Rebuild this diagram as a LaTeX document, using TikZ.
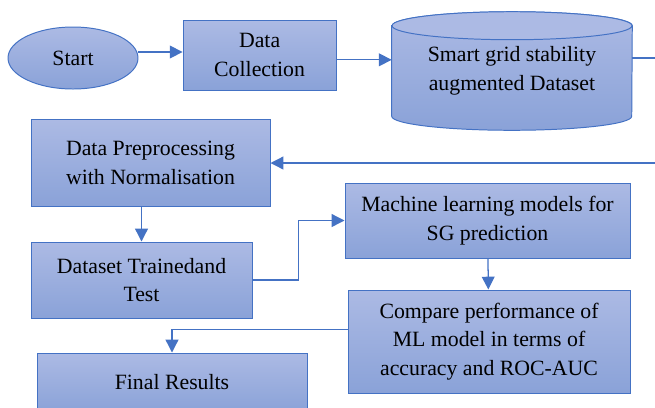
\documentclass[tikz,border=0pt]{standalone}
\usepackage{fontspec}
\setmainfont{Liberation Serif}
\usetikzlibrary{arrows.meta,backgrounds,shapes.geometric}
\definecolor{edgeblue}{RGB}{68,114,196}
\definecolor{filltop}{RGB}{172,186,228}
\definecolor{fillbot}{RGB}{138,162,216}
\begin{document}
\begin{tikzpicture}[font=\fontsize{15.5}{20.5}\selectfont,
  box/.style={draw=edgeblue, line width=0.7pt, top color=filltop, bottom color=fillbot, align=center, inner sep=0pt},
  term/.style={box, ellipse},
  store/.style={minimum width=6cm, minimum height=2.95cm, align=center, inner sep=0pt},
  cyl/.style={draw=edgeblue, line width=0.7pt, top color=filltop, bottom color=fillbot},
  arr/.style={draw=edgeblue, line width=0.9pt, -{Triangle[length=0.32cm, width=0.32cm]}},
  lin/.style={draw=edgeblue, line width=0.9pt}]
\useasboundingbox (0,0) rectangle (16.375,-10.175);
\node[term, minimum width=3.25cm, minimum height=1.55cm] (st) at (1.825,-1.45) {Start};
\node[box, minimum width=3.825cm, minimum height=1.75cm] (dc) at (6.49,-1.375) {Data\\Collection};
\node[store] (ds) at (12.8,-1.775) {Smart grid stability\\augmented Dataset};
\begin{scope}[on background layer]
  \path[cyl] ([yshift=-0.35cm]ds.north west) -- ([yshift=0.35cm]ds.south west)
    arc[start angle=180, end angle=360, x radius=3cm, y radius=0.35cm]
    -- ([yshift=-0.35cm]ds.north east)
    arc[start angle=0, end angle=180, x radius=3cm, y radius=0.35cm] -- cycle;
  \draw[edgeblue, line width=0.7pt, fill=filltop] ([yshift=-0.35cm]ds.north) ellipse[x radius=3cm, y radius=0.35cm];
\end{scope}
\node[box, minimum width=5.975cm, minimum height=2.175cm] (pre) at (3.7625,-4.0625) {Data Preprocessing\\with Normalisation};
\node[box, minimum width=5.525cm, minimum height=1.9cm] (tt) at (3.5375,-7.0) {Dataset Trainedand\\Test};
\node[box, minimum width=7.125cm, minimum height=1.875cm] (ml) at (12.1875,-5.5125) {Machine learning models for\\SG prediction};
\node[box, minimum width=7.05cm, minimum height=2.575cm] (cmp) at (12.225,-8.5375) {Compare performance of\\ML model in terms of\\accuracy and ROC-AUC};
\node[box, minimum width=6.75cm, minimum height=1.475cm] (fin) at (4.3,-9.5625) {Final Results};
\coordinate (r1) at (16.375,-1.45);
\coordinate (r2) at (16.375,-4.075);
\draw[arr] ([yshift=0.15cm]st.east) -- ([yshift=0.15cm]st.east -| dc.west);
\draw[arr] ([yshift=-0.12cm]dc.east) -- ([yshift=-0.12cm]dc.east -| ds.west);
\draw[lin] (ds.east |- r1) -- (r1);
\draw[arr] (r2) -- (r2 -| pre.east);
\draw[arr] (tt |- pre.south) -- (tt.north);
\draw[arr] (tt.east) -- ++(1.15,0) |- (ml.west);
\draw[arr] (ml) -- (cmp);
\draw[arr] ([yshift=0.3cm]cmp.west) -| (fin.north);
\end{tikzpicture}
\end{document}
